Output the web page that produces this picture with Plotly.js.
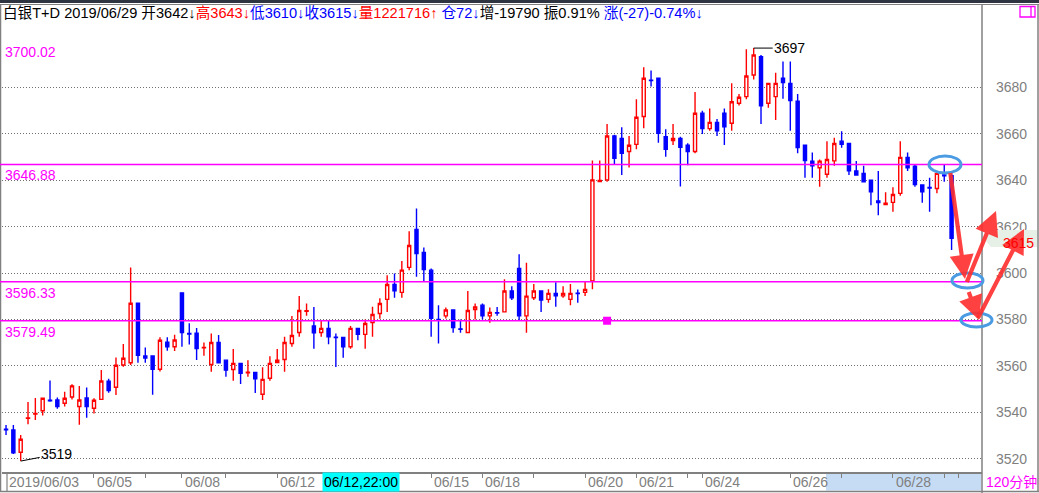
<!DOCTYPE html>
<html><head><meta charset="utf-8">
<script src="https://cdn.plot.ly/plotly-3.0.1.min.js"></script>
<style>html,body{margin:0;padding:0;background:#fff;}#chart{width:1039px;height:493px;}</style>
</head><body><div id="chart"></div>
<script>
// ---- data: 120-minute candles, 白银T+D ----
const openP = [3532.7,3532.4,3522.8,3537.4,3539.3,3540.7,3545.2,3545.3,3543.9,3546.6,
3542.5,3546.2,3541.8,3545.6,3553.4,3550.8,3560.4,3561.4,3587.0,3564.3,
3564.3,3558.6,3570.2,3568.3,3591.5,3574.0,3574.1,3567.8,3560.6,3570.1,
3562.5,3558.5,3561.1,3557.1,3557.2,3547.8,3554.7,3561.5,3562.8,3569.7,
3574.4,3583.6,3577.2,3574.4,3576.2,3572.4,3572.3,3568.3,3576.2,3573.6,
3578.7,3582.6,3588.7,3595.1,3591.7,3602.5,3618.8,3608.9,3601.3,3580.1,
3581.6,3584.1,3576.0,3574.4,3584.3,3586.2,3581.6,3583.0,3583.3,3592.3,
3602.0,3581.6,3589.4,3592.3,3588.7,3591.3,3590.2,3588.7,3591.4,3591.7,
3596.6,3639.5,3640.2,3659.1,3658.1,3652.4,3655.5,3667.5,3683.2,3684.0,
3658.8,3657.1,3658.1,3655.1,3652.4,3668.9,3662.3,3665.0,3668.9,3664.6,
3673.2,3676.1,3685.4,3693.3,3673.2,3676.1,3684.0,3681.8,3674.1,3655.1,
3648.3,3645.4,3642.6,3648.4,3656.9,3655.9,3644.0,3643.0,3640.1,3631.1,
3629.6,3630.5,3634.4,3649.9,3646.1,3638.0,3636.9,3636.5,3642.3,3642];
const highP = [3534.6,3534.6,3530.3,3544.5,3546.2,3546.1,3553.7,3546.4,3548.9,3552.1,
3551.4,3550.7,3546.1,3558.3,3554.5,3563.6,3569.5,3602.4,3587.0,3568.0,
3564.3,3572.4,3572.4,3573.4,3591.5,3578.4,3576.4,3570.1,3574.0,3573.3,
3562.5,3567.3,3561.1,3562.5,3557.2,3559.4,3564.2,3567.3,3572.6,3581.5,
3590.1,3586.9,3585.4,3579.8,3579.8,3574.0,3572.3,3577.2,3576.2,3580.0,
3585.5,3589.2,3599.1,3599.9,3605.2,3618.1,3627.9,3611.1,3602.0,3586.2,
3585.2,3584.1,3580.0,3592.3,3586.9,3586.9,3585.2,3585.4,3597.4,3594.4,
3608.2,3604.5,3595.3,3592.3,3593.1,3596.1,3594.4,3595.3,3593.0,3596.3,
3648.5,3648.5,3664.3,3659.7,3662.9,3659.1,3674.9,3688.7,3687.3,3684.0,
3662.0,3664.3,3658.8,3656.0,3678.1,3670.0,3671.0,3666.4,3671.0,3681.8,
3677.2,3696.5,3697,3694.0,3681.8,3686.4,3691.2,3691.2,3677.2,3655.1,
3652.0,3649.0,3656.9,3658.4,3661.2,3655.9,3648.3,3646.3,3640.1,3644.0,
3634.9,3637.0,3656.9,3652.0,3646.9,3638.0,3641.1,3643.0,3646.9,3643];
const lowP = [3530.3,3522.1,3519,3534.9,3536.7,3538.6,3544.6,3541.6,3542.5,3545.6,
3534.7,3537.7,3539.5,3545.6,3548.5,3547.5,3559.7,3560.4,3561.4,3561.4,
3547.6,3557.6,3566.6,3566.5,3568.3,3569.3,3562.6,3564.4,3557.5,3561.4,
3555.3,3553.6,3552.2,3555.3,3548.4,3545.3,3553.6,3561.5,3557.5,3568.3,
3572.6,3581.6,3567.4,3572.6,3569.4,3559.6,3563.5,3567.4,3571.1,3567.4,
3572.6,3580.3,3583.3,3589.4,3589.4,3601.3,3598.4,3596.6,3572.6,3569.7,
3580.5,3574.3,3574.3,3574.4,3580.0,3580.0,3578.6,3581.6,3583.3,3588.4,
3579.8,3574.3,3588.4,3583.3,3587.2,3585.5,3589.4,3586.2,3587.2,3590.2,
3593.1,3639.3,3639.4,3647.0,3642.3,3645.5,3653.4,3662.4,3680.4,3656.2,
3650.2,3655.2,3637.3,3646.5,3651.7,3660.0,3661.4,3659.1,3655.2,3661.4,
3672.3,3674.9,3683.5,3664.3,3671.3,3666.0,3675.2,3661.4,3651.7,3641.1,
3641.1,3637.2,3641.1,3646.3,3654.1,3642.3,3642.3,3639.4,3629.3,3625.0,
3629.6,3626.5,3633.4,3644.0,3637.2,3630.3,3626.5,3634.4,3639.4,3610];
const closeP = [3532.5,3522.6,3528.4,3537.6,3539.5,3546.1,3545.0,3542.5,3546.1,3551.4,
3545.3,3542.5,3545.2,3553.5,3549.4,3560.3,3563.3,3587.0,3564.6,3563.4,
3558.6,3571.1,3568.3,3571.2,3574.4,3573.8,3567.5,3568.0,3570.1,3561.4,
3558.2,3561.1,3556.8,3557.3,3554.5,3554.2,3561.1,3562.5,3570.1,3573.1,
3583.9,3583.8,3574.3,3576.2,3572.6,3572.2,3568.3,3576.2,3573.6,3578.3,
3582.2,3586.9,3595.1,3592.4,3601.3,3611.9,3608.5,3601.6,3580.5,3579.9,
3584.1,3576.6,3575.8,3583.9,3585.4,3581.6,3583.1,3582.8,3592.3,3589.4,
3581.6,3590.1,3592.3,3588.4,3591.3,3590.2,3591.3,3591.3,3591.2,3593.0,
3640.2,3640.0,3659.1,3649.5,3651.7,3655.1,3667.2,3684.0,3683.0,3660.3,
3653.4,3658.1,3654.2,3652.4,3668.9,3662.3,3665.0,3661.4,3663.1,3673.9,
3675.8,3685.0,3694.0,3672.1,3681.8,3681.8,3682.1,3674.4,3654.1,3648.5,
3646.3,3648.3,3649.0,3655.9,3655.5,3644.1,3642.3,3639.4,3635.1,3630.4,
3630.1,3633.9,3649.9,3645.4,3638.2,3635.1,3636.7,3643.0,3642.0,3615];

// horizontal reference levels (magenta)
const levelValues = [3646.88, 3596.33, 3579.49];
const levelLabels = ['3700.02', '3646.88', '3596.33', '3579.49'];
const levelLabelValues = [3700.02, 3646.88, 3596.33, 3579.49];
// magenta marker
const markX = [82];
const markY = [3579.49];
// x-axis day ticks (bar index) and labels
const tickIdx = [12, 19, 24, 30, 37, 58, 65, 72, 79, 86, 93, 95, 107, 114, 121, 128, 130];
const dayLabelIdx = [0, 12, 24, 37, 58, 65, 79, 86, 95, 107, 121];
const dayLabels = ['2019/06/03','06/05','06/08','06/12','06/15','06/18','06/20','06/21','06/24','06/26','06/28'];
// y-axis ticks
const yTicks = [3520, 3540, 3560, 3580, 3600, 3620, 3640, 3660, 3680];

const FONT = 'Liberation Sans, "Noto Sans CJK SC", sans-serif';
const W = 1039, H = 493, L = 2, R = 982, T = 4, B = 472;
const px = x => (x - L) / (R - L);
const py = y => (B - y) / (B - T);

const xIdx = openP.map((_, i) => i);

const traces = [{
  type: 'candlestick', x: xIdx, open: openP, high: highP, low: lowP, close: closeP,
  increasing: {line: {color: '#ff0000', width: 1.4}, fillcolor: '#ffffff'},
  decreasing: {line: {color: '#0000ff', width: 1.4}, fillcolor: '#0000ff'},
  whiskerwidth: 0, hoverinfo: 'skip', showlegend: false
}, {
  type: 'scatter', mode: 'markers', x: markX, y: markY,
  marker: {symbol: 'square', size: 8, color: '#ff00ff'}, hoverinfo: 'skip', showlegend: false
}];

const shapes = [];
const annotations = [];

// frame
shapes.push({type:'rect', xref:'paper', yref:'paper', x0:px(0), x1:px(W), y0:py(3), y1:py(-1), fillcolor:'#2e3440', line:{width:0}, layer:'above'});
shapes.push({type:'line', xref:'paper', yref:'paper', x0:px(0), x1:px(W), y0:py(4.5), y1:py(4.5), line:{color:'#808080', width:1.2}});
shapes.push({type:'line', xref:'paper', yref:'paper', x0:px(0), x1:px(W), y0:py(491.5), y1:py(491.5), line:{color:'#808080', width:1.5}});
shapes.push({type:'line', xref:'paper', yref:'paper', x0:px(0.5), x1:px(0.5), y0:py(4.5), y1:py(491.5), line:{color:'#808080', width:1.5}});
shapes.push({type:'line', xref:'paper', yref:'paper', x0:px(1038), x1:px(1038), y0:py(4.5), y1:py(491.5), line:{color:'#808080', width:1.5}});
shapes.push({type:'line', xref:'paper', yref:'paper', x0:px(982), x1:px(982), y0:py(4.5), y1:py(493), line:{color:'#808080', width:1.5}});
shapes.push({type:'line', xref:'paper', yref:'paper', x0:px(7), x1:px(7), y0:py(472), y1:py(491), line:{color:'#808080', width:1.2}});
// selection band on time axis
shapes.push({type:'rect', xref:'paper', yref:'paper', x0:px(826), x1:px(981), y0:py(490.5), y1:py(473), fillcolor:'#c6dcf4', line:{width:0}, layer:'below'});
// magenta icon
shapes.push({type:'rect', xref:'paper', yref:'paper', x0:px(1020), x1:px(1035), y0:py(17), y1:py(6.5), line:{color:'#ff00ff', width:1.3}});
shapes.push({type:'line', xref:'paper', yref:'paper', x0:px(1031), x1:px(1031), y0:py(17), y1:py(6.5), line:{color:'#ff00ff', width:1.3}});
// last-price tag background (pointer shape)
shapes.push({type:'path', xref:'paper', yref:'paper', layer:'above',
  path: 'M ' + px(984) + ' ' + py(238.5) + ' L ' + px(991) + ' ' + py(230) + ' L ' + px(1037) + ' ' + py(230) +
        ' L ' + px(1037) + ' ' + py(247) + ' L ' + px(991) + ' ' + py(247) + ' Z',
  fillcolor:'#e6f0e6', line:{width:0}});

// magenta level lines
levelValues.forEach(v => shapes.push({type:'line', xref:'paper', yref:'y', x0:px(0), x1:1, y0:v, y1:v, line:{color:'#ff00ff', width:1.5}}));
levelLabelValues.forEach((v, i) => annotations.push({xref:'paper', yref:'y', x:px(3), y:v, xanchor:'left', yanchor:'top', yshift:-1,
  text:levelLabels[i], showarrow:false, font:{family:FONT, size:14, color:'#ff00ff'}}));

// blue ellipses (drawn annotation)
[[929,156,961,173],[952,273,983,288],[961,313,992,327]].forEach(e => shapes.push({type:'circle', xref:'paper', yref:'paper',
  x0:px(e[0]), x1:px(e[2]), y0:py(e[3]), y1:py(e[1]), line:{color:'#4b9be3', width:3}}));

// red arrows (drawn annotation) [tipX, tipY, tailX, tailY]
[[965,279,950,171],[996,211,966,284],[979,320,968,290],[1024,229,977,320]].forEach(a => annotations.push({
  xref:'paper', yref:'paper', x:px(a[0]), y:py(a[1]), ax:a[2]-a[0], ay:a[3]-a[1], text:' ', font:{size:1},
  showarrow:true, arrowhead:2, arrowsize:1.15, arrowwidth:4.2, arrowcolor:'rgba(255,45,45,0.9)', standoff:0, startstandoff:0}));

// last price tag text (drawn above the arrows)
const lastC = closeP[closeP.length - 1];
annotations.push({xref:'paper', yref:'y', x:px(1035), y:lastC, xanchor:'right', yanchor:'middle', yshift:-5, showarrow:false,
  text:String(lastC), borderpad:0, font:{family:FONT, size:14, color:'#ff0000'}});

// header
const header = [
  ['白银T+D 2019/06/29 开3642↓', '#000000'],
  ['高3643↓', '#ff0000'],
  ['低3610↓', '#0000ff'],
  ['收3615↓', '#0000ff'],
  ['量1221716↑', '#ff0000'],
  [' 仓72↓', '#0000ff'],
  ['增-19790 振0.91% ', '#000000'],
  ['涨(-27)-0.74%↓', '#0000ff']
];
annotations.push({xref:'paper', yref:'paper', x:px(1), y:py(13), xanchor:'left', yanchor:'middle', showarrow:false,
  text: header.map(h => '<span style="color:' + h[1] + '">' + h[0] + '</span>').join(''),
  font:{family:FONT, size:14.6, color:'#000'}});

// day labels on time axis
dayLabelIdx.forEach((ix, i) => annotations.push({xref:'x', yref:'paper', x:ix, y:py(482), xanchor:'left', yanchor:'middle', xshift:1,
  showarrow:false, text:dayLabels[i], font:{family:FONT, size:14, color:'#808080'}}));
// cursor time box
annotations.push({xref:'paper', yref:'paper', x:px(322), y:py(482), xanchor:'left', yanchor:'middle', showarrow:false,
  text:'06/12,22:00', bgcolor:'#00ffff', borderpad:1, font:{family:FONT, size:14, color:'#000'}});
// period label
annotations.push({xref:'paper', yref:'paper', x:px(1012), y:py(482), xanchor:'center', yanchor:'middle', showarrow:false,
  text:'120分钟', font:{family:FONT, size:14, color:'#ff00ff'}});

// max / min marks
const maxI = highP.indexOf(Math.max(...highP));
const minI = lowP.indexOf(Math.min(...lowP));
annotations.push({xref:'x', yref:'y', x:maxI, y:highP[maxI], ax:36, ay:0, text:String(Math.round(highP[maxI])), showarrow:true,
  arrowhead:0, arrowwidth:1, arrowcolor:'#000', standoff:0, font:{family:FONT, size:14, color:'#000'}});
annotations.push({xref:'x', yref:'y', x:minI, y:lowP[minI], ax:36, ay:-7, text:String(Math.round(lowP[minI])), showarrow:true,
  arrowhead:0, arrowwidth:1, arrowcolor:'#000', standoff:0, font:{family:FONT, size:14, color:'#000'}});

const layout = {
  width: W, height: H, margin: {l: L, r: W - R, t: T, b: H - B, pad: 0},
  paper_bgcolor: '#ffffff', plot_bgcolor: '#ffffff', showlegend: false, boxgap: 0.4,
  xaxis: {type: 'linear', range: [-0.55, 133.15], showgrid: false, zeroline: false, showline: true, linecolor: '#808080', linewidth: 1.5,
    tickmode: 'array', tickvals: tickIdx, ticktext: tickIdx.map(() => ''), ticks: 'outside', ticklen: 4, tickcolor: '#808080', tickwidth: 1,
    rangeslider: {visible: false}, fixedrange: true},
  yaxis: {side: 'right', range: [3514.3, 3716.0], tickmode: 'array', tickvals: yTicks, ticktext: yTicks.map(String),
    showgrid: true, gridcolor: '#707070', gridwidth: 1, griddash: '1px,2px', zeroline: false, showline: false, ticks: '',
    ticklabelstandoff: 13, tickfont: {family: FONT, size: 14, color: '#808080'}, fixedrange: true},
  shapes: shapes, annotations: annotations, hovermode: false
};

Plotly.newPlot('chart', traces, layout, {displayModeBar: false, staticPlot: true});
</script>
</body></html>
